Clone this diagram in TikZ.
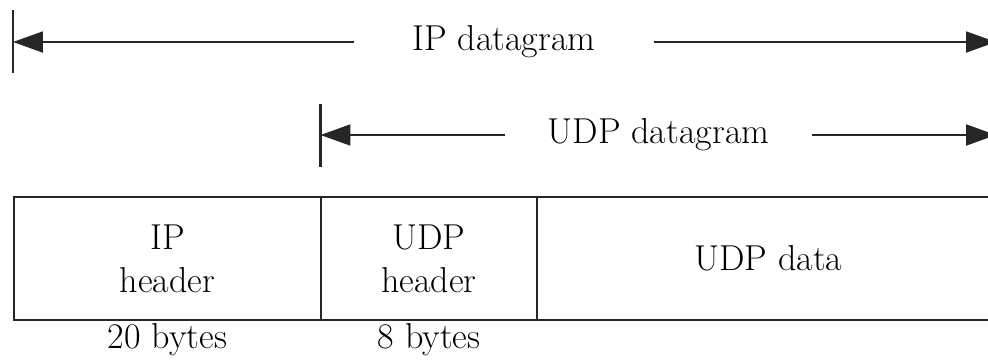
\documentclass[tikz,border=0pt]{standalone}
\usepackage{fontspec}
\usepackage{tikz}
\usetikzlibrary{arrows.meta,positioning}
\definecolor{pktline}{RGB}{38,38,38}
\newcommand{\pktfont}{\fontsize{20.5}{24.4}\selectfont}
\tikzset{
  field/.style={draw=pktline, line width=1.1pt, minimum height=2.46cm,
    align=center, inner sep=0pt, outer sep=0pt, font=\pktfont},
  sizelabel/.style={inner sep=0pt, font=\pktfont},
  spanlabel/.style={inner ysep=2pt, font=\pktfont},
  dimarrow/.style={-{Triangle[length=0.6cm, width=0.42cm]}, line width=1.1pt, draw=pktline},
  endtick/.style={line width=1.3pt, draw=pktline}
}

\begin{document}
\begin{tikzpicture}[x=0.02cm, y=-0.02cm]
    \useasboundingbox (0,0) rectangle (988,360);

    % packet fields
    \node[field, minimum width=6.14cm] (iphdr) at (167.5,258.5) {IP\\header};
    \node[field, minimum width=4.32cm, right=0pt of iphdr] (udphdr) {UDP\\header};
    \node[field, minimum width=9.26cm, right=0pt of udphdr] (udpdata) {UDP data};

    \node[sizelabel, below=2pt of iphdr] (ipsize) {20 bytes};
    \node[sizelabel, below=2pt of udphdr] (udpsize) {8 bytes};

    % IP datagram span
    \coordinate (ipL) at (13,42);
    \coordinate (ipR) at (996,42);
    \node[spanlabel, inner xsep=33pt] (iplbl) at (504,42) {IP datagram};
    \draw[endtick] (ipL) ++(0,-32) -- ++(0,63);
    \draw[dimarrow] (iplbl.west) -- (ipL);
    \draw[dimarrow] (iplbl.east) -- (ipR);

    % UDP datagram span
    \coordinate (udpL) at (320.5,135);
    \coordinate (udpR) at (996,135);
    \node[spanlabel, inner xsep=24pt] (udplbl) at (658.5,135) {UDP datagram};
    \draw[endtick] (udpL) ++(0,-31) -- ++(0,63);
    \draw[dimarrow] (udplbl.west) -- (udpL);
    \draw[dimarrow] (udplbl.east) -- (udpR);
\end{tikzpicture}
\end{document}
